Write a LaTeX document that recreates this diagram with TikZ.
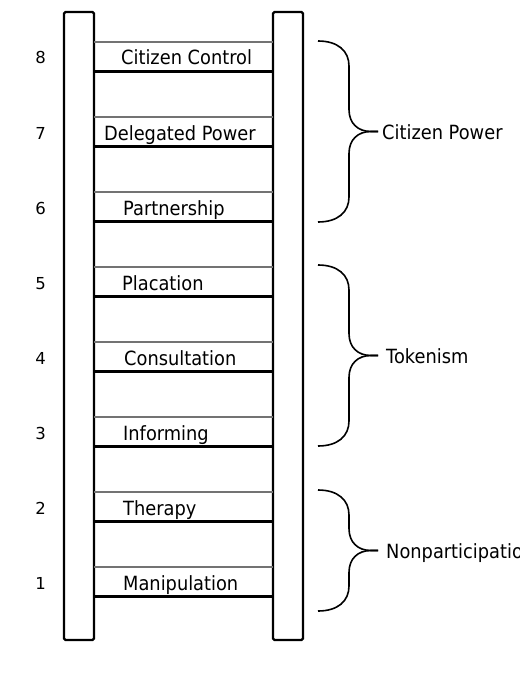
\documentclass[tikz,border=0pt]{standalone}
\usepackage{fontspec}
\setmainfont{DejaVu Sans}
\newcommand{\tallt}[1]{\scalebox{1}[1.1]{#1}}
\begin{document}
\begin{tikzpicture}[x=1bp,y=-1bp,
 rail/.style={draw,line width=2.4bp,rounded corners=1.5bp,minimum width=30bp,minimum height=628bp,inner sep=0pt,outer sep=0pt},
 rungtop/.style={draw=black!55,line width=2bp},
 rungbot/.style={draw=black,line width=2.4bp},
 lbl/.style={anchor=base west,inner sep=0pt,font=\fontsize{17.8bp}{20bp}\selectfont},
 num/.style={anchor=base,inner sep=0pt,font=\fontsize{16.5bp}{18bp}\selectfont},
 bracestyle/.style={draw,line width=1.6bp}]
\useasboundingbox (0,0) rectangle (520,687);
\clip (0,0) rectangle (520,687);
\node[rail] (L) at (79,326) {};
\node[rail] (R) at (288,326) {};
\foreach \k/\t/\dx in {8/Citizen Control/121, 7/Delegated Power/104, 6/Partnership/123, 5/Placation/122, 4/Consultation/124, 3/Informing/123, 2/Therapy/123, 1/Manipulation/123} {
  \pgfmathsetmacro\yt{42+(8-\k)*75}
  \pgfmathsetmacro\yb{\yt+29.5}
  \coordinate (t\k) at (0,\yt);
  \coordinate (b\k) at (0,\yb);
  \draw[rungtop] (L.east |- t\k) -- (R.west |- t\k);
  \draw[rungbot] (L.east |- b\k) -- (R.west |- b\k);
  \node[lbl] (lab\k) at (\dx,\yb-6.5) {\tallt{\t}};
  \node[num] (n\k) at (40.5,\yb-7.5) {\k};
}
\foreach \nm/\yt/\yb/\tx/\txt in {cp/41/222/382/Citizen Power, tk/265/446/386/Tokenism, np/490/611/386/Nonparticipation} {
  \pgfmathsetmacro\ym{(\yt+\yb)/2}
  \draw[bracestyle] (318,\yt) .. controls (338,\yt) and (349,\yt+10) .. (349,\yt+25)
     -- (349,\ym-22) .. controls (349,\ym-8) and (358,\ym) .. (371,\ym) -- (378,\ym);
  \draw[bracestyle] (378,\ym) -- (371,\ym) .. controls (358,\ym) and (349,\ym+8) .. (349,\ym+22)
     -- (349,\yb-25) .. controls (349,\yb-10) and (338,\yb) .. (318,\yb);
  \node[lbl] (\nm) at (\tx,\ym+8) {\tallt{\txt}};
}
\end{tikzpicture}
\end{document}
